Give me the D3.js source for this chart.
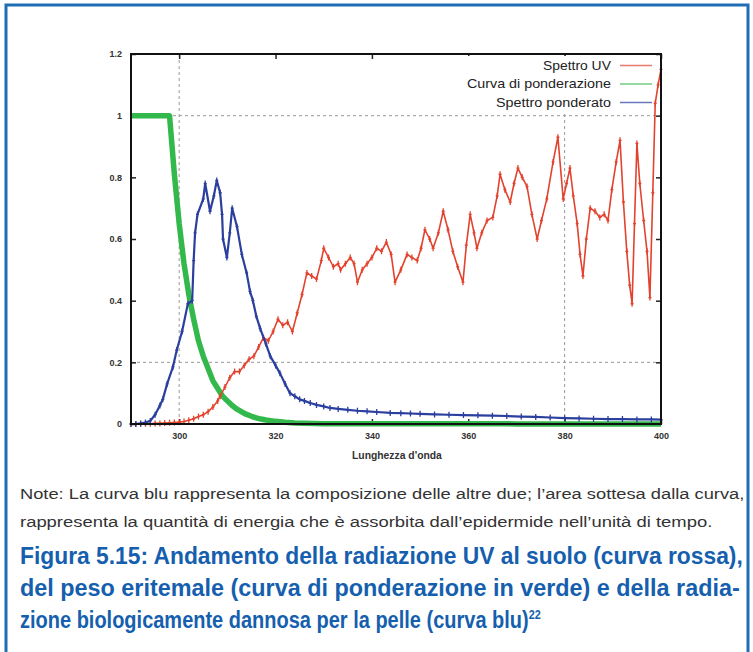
<!DOCTYPE html>
<html>
<head>
<meta charset="utf-8">
<script src="https://cdn.jsdelivr.net/npm/d3@7"></script>
<style>
  body { margin: 0; background: #fff; }
  svg { display: block; }
</style>
</head>
<body>
<div id="chart"></div>
<script>
// Spettro UV (curva rossa): lunghezza d'onda [nm] e valore normalizzato
const uvWavelength = [290,291,292,293,294,295,296,297,298,299,300,301,302,303,304,305,306,307,308,308.5,309.5,310.5,311.5,312.5,313.5,314.5,315.5,316.5,317.5,318.5,319.5,320.5,321.5,322.5,323.5,324.5,325.5,326.5,327.5,328.5,329.5,330,331,332,333,333.5,334.5,335.5,336.3,337,338,339,340,341,342,343,344,344.8,346,347.3,348.3,349.4,350.2,351,352,352.7,353.8,354.8,355.8,356.8,357.8,358.9,359.6,360.4,361.2,361.8,362.8,363.9,365.1,366,366.6,367.6,368.7,369.5,370.3,371.2,372.2,373.2,374.3,375.2,376.3,377.6,378.6,379.7,380.4,381.1,381.8,382.6,383.2,383.8,384.5,385.3,386.3,387.3,388.2,389,389.8,390.7,391.5,392.2,392.9,393.5,394,394.5,395,395.6,396.4,397.1,397.7,398.3,398.8,399.4,400];
const uvValue = [0,0,0.001,0.001,0.001,0.002,0.002,0.003,0.004,0.005,0.006,0.008,0.012,0.017,0.024,0.03,0.04,0.055,0.075,0.09,0.12,0.15,0.17,0.17,0.19,0.21,0.22,0.25,0.28,0.27,0.30,0.34,0.32,0.33,0.30,0.36,0.42,0.49,0.48,0.47,0.53,0.57,0.54,0.51,0.52,0.50,0.52,0.54,0.52,0.46,0.50,0.52,0.54,0.57,0.56,0.59,0.55,0.46,0.50,0.55,0.54,0.53,0.57,0.63,0.60,0.57,0.62,0.69,0.63,0.56,0.51,0.46,0.58,0.68,0.62,0.57,0.62,0.66,0.67,0.74,0.81,0.76,0.72,0.78,0.83,0.80,0.77,0.68,0.60,0.66,0.73,0.85,0.93,0.73,0.78,0.83,0.74,0.65,0.55,0.48,0.60,0.70,0.69,0.67,0.68,0.66,0.76,0.85,0.92,0.72,0.56,0.45,0.39,0.65,0.91,0.78,0.66,0.56,0.41,0.75,1.04,1.10,1.15];

// Curva di ponderazione (peso eritemale, verde)
const weightWavelength = [290,292,294,296,298,299,300,301,302,303,304,305,306,307,308,309,310,311,312,313,314,315,316,317,318,319,320,322,324,326,328,330,340,350,360,370,380,390,400];
const weightValue = [1,1,1,1,1,0.81,0.65,0.52,0.42,0.34,0.27,0.22,0.18,0.14,0.115,0.09,0.075,0.06,0.048,0.039,0.031,0.025,0.02,0.016,0.013,0.011,0.0086,0.0056,0.0036,0.0024,0.0015,0.0012,0.0009,0.0007,0.0005,0.0004,0.0003,0.0002,0.0002];

// Spettro ponderato (curva blu)
const weightedWavelength = [290,291,292,293,294,295,296,296.6,297.5,298.7,299.5,300.6,301.8,302.7,303,303.3,303.8,305,305.4,306.4,307.2,307.8,308.5,308.9,309.1,309.9,310.5,311,312,313,314,314.7,315.3,316,316.8,318,318.9,320,320.9,322,323,324,325,326,327.2,328.5,330,331.3,333,335,337,339,341,343.8,346,348,350,353,356,359,362,365,368,371,374,377,380,383,386,389,392,395,398,400];
const weightedValue = [0,0,0.002,0.005,0.01,0.03,0.06,0.08,0.13,0.185,0.24,0.30,0.39,0.40,0.53,0.62,0.68,0.73,0.78,0.69,0.74,0.79,0.75,0.68,0.60,0.54,0.62,0.70,0.64,0.55,0.49,0.43,0.40,0.35,0.31,0.26,0.22,0.19,0.165,0.13,0.10,0.09,0.08,0.075,0.068,0.062,0.057,0.052,0.049,0.046,0.043,0.041,0.039,0.036,0.035,0.034,0.033,0.031,0.030,0.029,0.028,0.027,0.026,0.024,0.023,0.021,0.019,0.018,0.017,0.016,0.016,0.015,0.015,0.014];

const xTicks = [300, 320, 340, 360, 380, 400];
const yTicks = [0, 0.2, 0.4, 0.6, 0.8, 1, 1.2];
const gridX = [300, 380];
const gridY = [0.2, 1];
const legendLabels = ["Spettro UV", "Curva di ponderazione", "Spettro ponderato"];
const noteLines = [
  "Note: La curva blu rappresenta la composizione delle altre due; l\u2019area sottesa dalla curva,",
  "rappresenta la quantit\u00e0 di energia che \u00e8 assorbita dall\u2019epidermide nell\u2019unit\u00e0 di tempo."
];
const titleLines = [
  "Figura 5.15: Andamento della radiazione UV al suolo (curva rossa),",
  "del peso eritemale (curva di ponderazione in verde) e della radia-",
  "zione biologicamente dannosa per la pelle (curva blu)"
];

const W = 753, H = 652;
const svg = d3.select("#chart").append("svg")
  .attr("width", W)
  .attr("height", H);

// squeeze a text horizontally so it spans `width` px (condensed look)
function fitText(sel, x0, y0, width) {
  const w = sel.node().getComputedTextLength();
  sel.attr("x", 0).attr("y", 0)
    .attr("transform", `translate(${x0},${y0}) scale(${width / w},1)`);
}

// Page frame
svg.append("rect")
  .attr("x", 6).attr("y", 5)
  .attr("width", 742).attr("height", 670)
  .attr("fill", "none")
  .attr("stroke", "#1f6db5")
  .attr("stroke-width", 3);

const x = d3.scaleLinear().domain([290, 400]).range([131, 661]);
const y = d3.scaleLinear().domain([0, 1.2]).range([424, 54]);

// Grid (dashed)
svg.selectAll(".gx").data(gridX).join("line")
  .attr("x1", d => x(d)).attr("x2", d => x(d))
  .attr("y1", y(1.2)).attr("y2", y(0))
  .attr("stroke", "#999").attr("stroke-width", 1)
  .attr("stroke-dasharray", "3,3");
svg.selectAll(".gy").data(gridY).join("line")
  .attr("x1", x(290)).attr("x2", x(400))
  .attr("y1", d => y(d)).attr("y2", d => y(d))
  .attr("stroke", "#999").attr("stroke-width", 1)
  .attr("stroke-dasharray", "3,3");

// Axes
const fmt = d3.format("~g");
const axisStyle = g => {
  g.select(".domain").remove();
  g.selectAll(".tick line").attr("stroke", "#222").attr("stroke-width", 1.5);
  g.selectAll(".tick text")
    .attr("font-family", "Liberation Sans, Arial, sans-serif")
    .attr("font-size", 9).attr("font-weight", "bold").attr("fill", "#333");
};
svg.append("g").attr("transform", `translate(0,${y(0)})`)
  .call(d3.axisBottom(x).tickValues(xTicks).tickSize(-5).tickPadding(9).tickFormat(fmt))
  .call(axisStyle);
svg.append("g").attr("transform", `translate(0,${y(1.2)})`)
  .call(d3.axisTop(x).tickValues(xTicks).tickSize(-5).tickFormat(""))
  .call(axisStyle);
svg.append("g").attr("transform", `translate(${x(290)},0)`)
  .call(d3.axisLeft(y).tickValues(yTicks).tickSize(-5).tickPadding(9).tickFormat(fmt))
  .call(axisStyle);
svg.append("g").attr("transform", `translate(${x(400)},0)`)
  .call(d3.axisRight(y).tickValues(yTicks).tickSize(-5).tickFormat(""))
  .call(axisStyle);

// Axis title
const xTitle = svg.append("text")
  .attr("font-family", "Liberation Sans, Arial, sans-serif")
  .attr("font-size", 11).attr("font-weight", "bold").attr("fill", "#333")
  .text("Lunghezza d'onda");
fitText(xTitle, 352, 459, 90);

// Series
const series = [
  { wl: uvWavelength, val: uvValue, color: "#e2432e", width: 1.6, mark: 3 },
  { wl: weightWavelength, val: weightValue, color: "#33b84c", width: 5.5, mark: 0 },
  { wl: weightedWavelength, val: weightedValue, color: "#2b3f9e", width: 2.2, mark: 3 }
];
const line = d3.line().x(d => x(d[0])).y(d => y(d[1]));

const plot = svg.append("g");
// green first so red and blue sit on top of it
[series[1], series[0], series[2]].forEach(s => {
  const pts = s.wl.map((w, i) => [w, s.val[i]]);
  plot.append("path")
    .datum(pts)
    .attr("d", line)
    .attr("fill", "none")
    .attr("stroke", s.color)
    .attr("stroke-width", s.width)
    .attr("stroke-linejoin", "round");
  if (s.mark) {
    plot.selectAll(null).data(pts).join("path")
      .attr("d", d => `M${x(d[0])},${y(d[1]) - s.mark}V${y(d[1]) + s.mark}M${x(d[0]) - 1.5},${y(d[1])}H${x(d[0]) + 1.5}`)
      .attr("stroke", s.color)
      .attr("stroke-width", 1.3)
      .attr("fill", "none");
  }
});

// Plot frame
svg.append("rect")
  .attr("x", x(290)).attr("y", y(1.2))
  .attr("width", x(400) - x(290)).attr("height", y(0) - y(1.2))
  .attr("fill", "none")
  .attr("stroke", "#111")
  .attr("stroke-width", 2);

// Legend
const legend = svg.append("g");
legend.append("rect")
  .attr("x", 438).attr("y", 56)
  .attr("width", 176).attr("height", 58)
  .attr("fill", "#fff");
const legendWidths = [68, 144, 115];
legendLabels.forEach((lab, i) => {
  const ly = 69.5 + i * 18.5;
  const t = legend.append("text")
    .attr("font-family", "Liberation Sans, Arial, sans-serif")
    .attr("font-size", 12.5).attr("fill", "#222")
    .text(lab);
  fitText(t, 611 - legendWidths[i], ly, legendWidths[i]);
  legend.append("line")
    .attr("x1", 620).attr("x2", 652)
    .attr("y1", ly - 4).attr("y2", ly - 4)
    .attr("stroke", series[i].color)
    .attr("stroke-width", 1.5)
    .attr("opacity", 0.7);
});

// Note and caption
const noteWidths = [725, 693];
noteLines.forEach((s, i) => {
  const t = svg.append("text")
    .attr("font-family", "Liberation Sans, Arial, sans-serif")
    .attr("font-size", 15.5).attr("fill", "#333")
    .text(s);
  fitText(t, 20, 499 + i * 28, noteWidths[i]);
});
const titleWidths = [723, 720, 521];
titleLines.forEach((s, i) => {
  const t = svg.append("text")
    .attr("font-family", "Liberation Sans, Arial, sans-serif")
    .attr("font-size", 24).attr("font-weight", "bold").attr("fill", "#155fae");
  t.append("tspan").text(s);
  if (i === 2) {
    t.append("tspan").attr("dy", -9).attr("font-size", 13).text("22");
  }
  fitText(t, 20, 564 + i * 32, titleWidths[i]);
});
</script>
</body>
</html>
